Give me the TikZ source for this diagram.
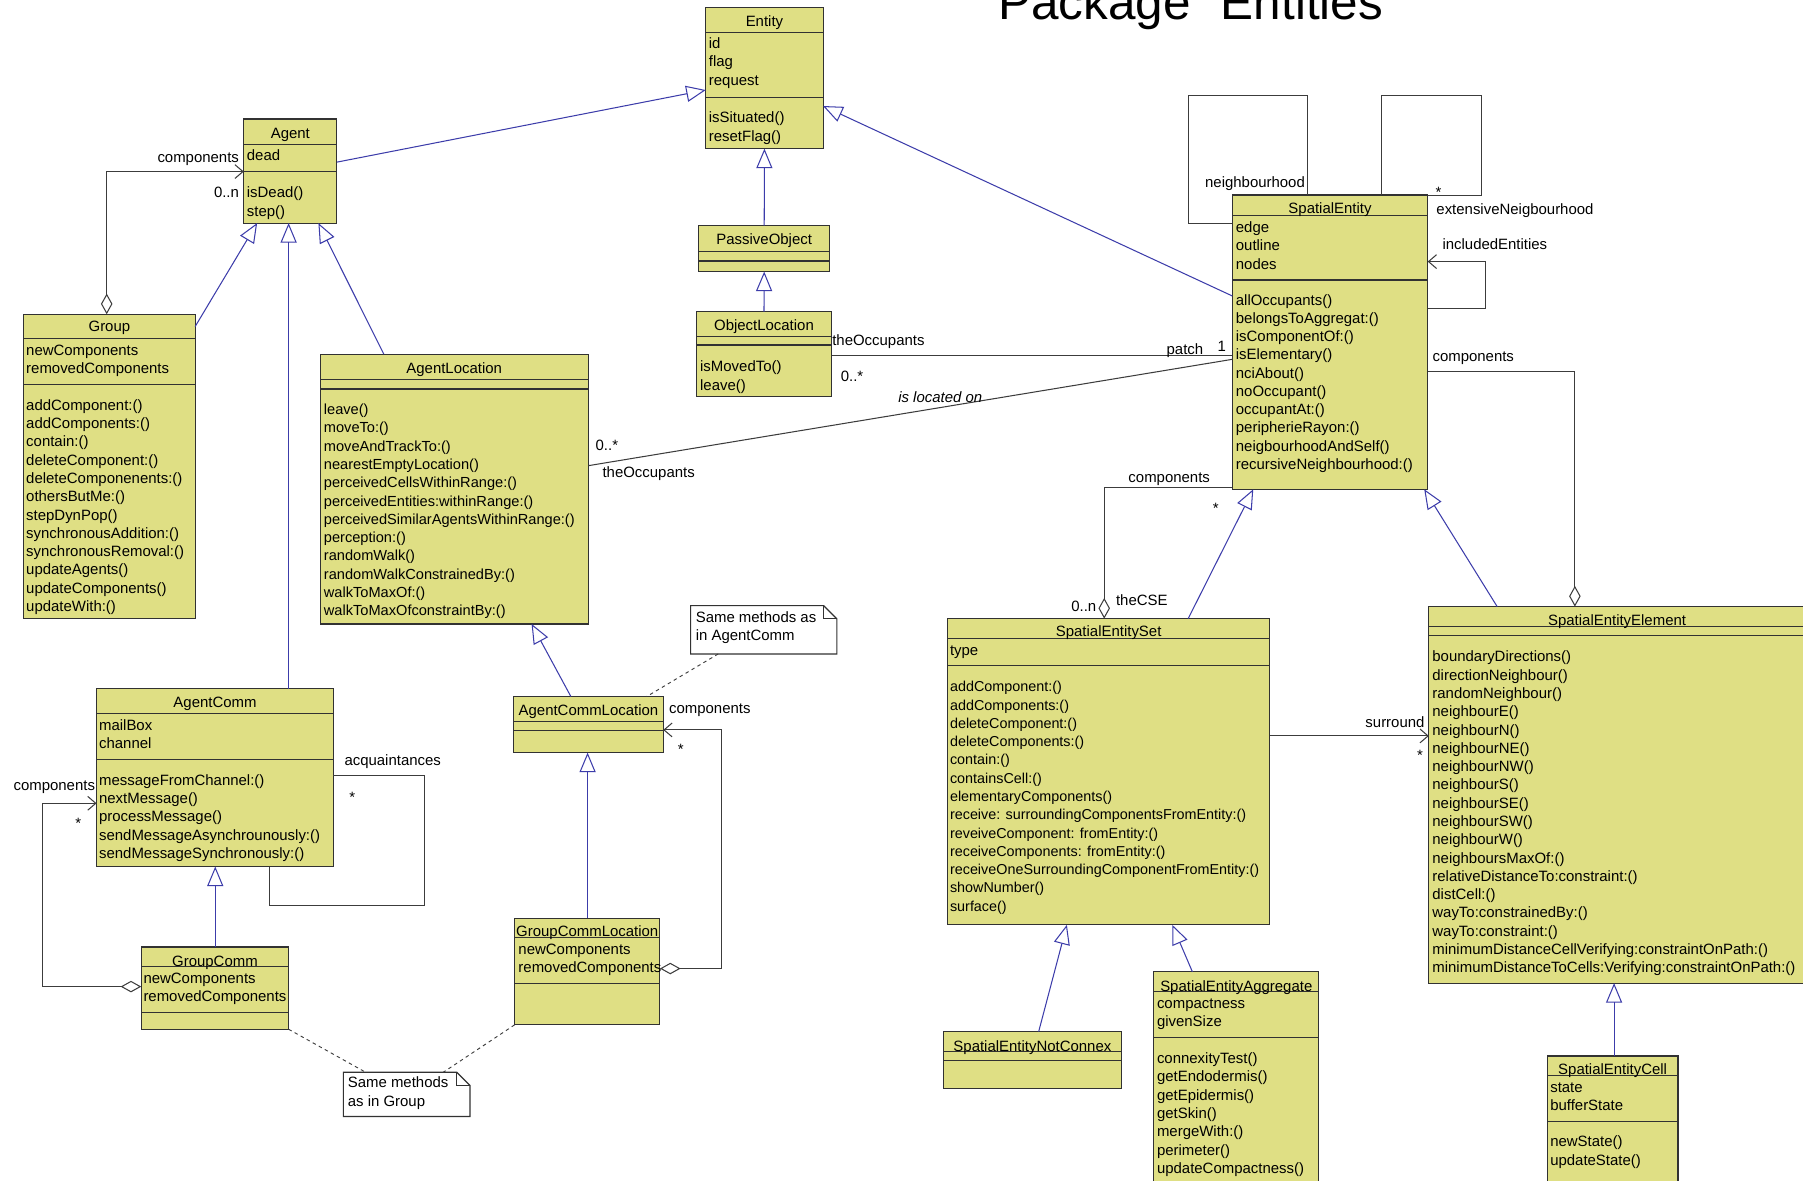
\documentclass[tikz,border=0pt]{standalone}
\usepackage{fontspec}
\setmainfont{Liberation Sans}
\usepackage{xcolor}
\usetikzlibrary{arrows.meta}

\definecolor{classfill}{RGB}{223,223,132}
\definecolor{genblue}{RGB}{60,60,170}
\definecolor{assocgray}{RGB}{60,60,60}
\definecolor{boxline}{RGB}{50,50,50}

\tikzset{
	classbox/.style={draw=boxline, fill=classfill, line width=1pt, inner sep=0pt, outer sep=0pt, anchor=north west},
	member/.style={inner sep=0pt, anchor=west, text height=9.3pt, text depth=0pt, font=\fontsize{13}{15.9}\selectfont},
	classtitle/.style={member, anchor=center},
	gen/.style={genblue, line width=0.9pt, -{Triangle[open, length=17pt, width=14pt]}},
	assoc/.style={assocgray, line width=0.9pt},
	aggr/.style={assoc, {Diamond[open, length=18pt, width=10pt]}-},
	aggrnav/.style={assoc, {Diamond[open, length=18pt, width=10pt]}-{Straight Barb[length=7pt, width=12pt]}},
	nav/.style={assoc, -{Straight Barb[length=7pt, width=12pt]}},
	notebox/.style={inner sep=0pt, outer sep=0pt, anchor=north west},
	notedraw/.style={draw=boxline, fill=white, line width=1pt},
	notelink/.style={assocgray, line width=0.8pt, dash pattern=on 3pt off 3pt},
}

% #1 name, #2 left, #3 top, #4 right, #5 bottom, #6 #7 dividers, #8 title, #9 title y
\newcommand{\umlclass}[9]{%
	\node[classbox, minimum width={(#4-#2)*1pt}, minimum height={(#5-#3)*1pt}] (#1) at (#2,#3) {};
	\draw[boxline, line width=1pt] (#1.west |- 0,#6) -- (#1.east |- 0,#6);
	\draw[boxline, line width=1pt] (#1.west |- 0,#7) -- (#1.east |- 0,#7);
	\node[classtitle] (#1-title) at (#1.north |- 0,#9) {#8};
}
% [#1 extra options], #2 prefix, #3 x, #4 first line y, #5 lines
\newcommand{\members}[5][]{%
	\foreach \m [count=\i] in {#5}
		\node[member,#1] (#2\i) at (#3,{#4+(\i-1)*\pitch}) {\m};
}
% #1 name, #2 left, #3 top, #4 width, #5 height
\newcommand{\umlnote}[5]{%
	\node[notebox, minimum width=#4pt, minimum height=#5pt] (#1) at (#2,#3) {};
	\draw[notedraw] (#1.south west) -- (#1.north west) -- ([xshift=-11.5pt]#1.north east) -- ([yshift=-11.5pt]#1.north east) -- (#1.south east) -- cycle;
	\draw[boxline, line width=1pt] ([xshift=-11.5pt]#1.north east) |- ([yshift=-11.5pt]#1.north east);
}

\begin{document}
\begin{tikzpicture}[x=1pt, y=-1pt]
	% Parameters
	\def\pitch{15.9}
	\useasboundingbox (0,0) rectangle (1568,1027);
	\fill[white] (0,0) rectangle (1568,1027);

	%title
	\node[anchor=base west, inner sep=0pt, font=\fontsize{43}{43}\selectfont] (pkgtitle) at (868,17) {Package "Entities"};

	%classes
	\umlclass{entity}{613.8}{6.5}{715.8}{129.3}{28.4}{84.6}{Entity}{18.8}
	\members{entity-a}{616.3}{37.7}{id,flag,request}
	\members{entity-m}{616.3}{102.2}{isSituated(),resetFlag()}

	\umlclass{agent}{212}{103.5}{293}{194}{125.5}{149.2}{Agent}{115.4}
	\members{agent-a}{214.5}{134.8}{dead}
	\members{agent-m}{214.5}{167.5}{isDead(),step()}

	\umlclass{group}{20.6}{273.3}{169.7}{537.7}{294.2}{334.2}{Group}{284}
	\members{group-a}{22.6}{304.4}{newComponents,removedComponents}
	\members{group-m}{22.6}{352.2}{addComponent:(),addComponents:(),contain:(),deleteComponent:(),deleteComponenents:(),othersButMe:(),stepDynPop(),synchronousAddition:(),synchronousRemoval:(),updateAgents(),updateComponents(),updateWith:()}

	\umlclass{agentlocation}{278.5}{308}{511.5}{542.6}{330}{338.3}{AgentLocation}{320.3}
	\members[font=\fontsize{12.7}{15.9}\selectfont]{agentlocation-m}{281.5}{355.9}{leave(),moveTo:(),moveAndTrackTo:(),nearestEmptyLocation(),perceivedCellsWithinRange:(),perceivedEntities:withinRange:(),perceivedSimilarAgentsWithinRange:(),perception:(),randomWalk(),randomWalkConstrainedBy:(),walkToMaxOf:(),walkToMaxOfconstraintBy:()}

	\umlclass{passiveobject}{607.5}{196.2}{721.7}{236.2}{218.8}{227}{PassiveObject}{208}

	\umlclass{objectlocation}{605.6}{271}{723.2}{345}{292.8}{300}{ObjectLocation}{283}
	\members{objectlocation-m}{608.7}{318.8}{isMovedTo(),leave()}

	\umlclass{spatialentity}{1071.7}{169.6}{1241.6}{425.5}{187.2}{243.5}{SpatialEntity}{181}
	\members{spatialentity-a}{1074.6}{197.7}{edge,outline,nodes}
	\members{spatialentity-m}{1074.6}{260.6}{allOccupants(),belongsToAggregat:(),isComponentOf:(),isElementary(),nciAbout(),noOccupant(),occupantAt:(),peripherieRayon:(),neigbourhoodAndSelf(),recursiveNeighbourhood:()}

	\umlclass{agentcomm}{84}{598.9}{290}{753.6}{620.3}{660.3}{AgentComm}{610.7}
	\members{agentcomm-a}{86}{630.4}{mailBox,channel}
	\members{agentcomm-m}{86}{678.3}{messageFromChannel:(),nextMessage(),processMessage(),sendMessageAsynchrounously:(),sendMessageSynchronously:()}

	\umlclass{groupcomm}{122.9}{823.5}{251}{895.1}{840.6}{880.3}{GroupComm}{835.6}
	\members{groupcomm-a}{124.6}{850.7}{newComponents,removedComponents}

	\umlclass{acl}{446.7}{605.8}{576.8}{654.5}{627.8}{635.4}{AgentCommLocation}{617.4}

	\umlclass{gcl}{447.5}{798.5}{573.9}{891.3}{815.4}{855.1}{GroupCommLocation}{810}
	\members{gcl-a}{450.7}{825.5}{newComponents,removedComponents}

	\umlclass{ses}{824}{538}{1104.3}{804.3}{555}{579}{SpatialEntitySet}{549.3}
	\members{ses-a}{826}{565}{type}
	\members[font=\fontsize{12.5}{15.9}\selectfont]{ses-m}{826}{597}{addComponent:(),addComponents:(),deleteComponent:(),deleteComponents:(),contain:(),containsCell:(),elementaryComponents(),receive: surroundingComponentsFromEntity:(),reveiveComponent: fromEntity:(),receiveComponents: fromEntity:(),receiveOneSurroundingComponentFromEntity:(),showNumber(),surface()}

	\umlclass{see}{1242.6}{527.5}{1570}{855}{545}{552.8}{SpatialEntityElement}{539}
	\members{see-m}{1245.5}{571}{boundaryDirections(),directionNeighbour(),randomNeighbour(),neighbourE(),neighbourN(),neighbourNE(),neighbourNW(),neighbourS(),neighbourSE(),neighbourSW(),neighbourW(),neighboursMaxOf:(),relativeDistanceTo:constraint:(),distCell:(),wayTo:constrainedBy:(),wayTo:constraint:(),minimumDistanceCellVerifying:constraintOnPath:(),minimumDistanceToCells:Verifying:constraintOnPath:()}

	\umlclass{senc}{820.7}{897.1}{975}{946.4}{914.5}{922.3}{SpatialEntityNotConnex}{909.6}

	\umlclass{sea}{1003.5}{845.2}{1146.8}{1035}{862}{902}{SpatialEntityAggregate}{857.4}
	\members{sea-a}{1006}{872.4}{compactness,givenSize}
	\members{sea-m}{1006}{920.3}{connexityTest(),getEndodermis(),getEpidermis(),getSkin(),mergeWith:(),perimeter(),updateCompactness()}

	\umlclass{sec}{1345.6}{918.3}{1459.3}{1035}{935}{975}{SpatialEntityCell}{929.8}
	\members{sec-a}{1348}{945.5}{state,bufferState}
	\members{sec-m}{1348}{992.8}{newState(),updateState()}

	%notes
	\umlnote{noteacl}{600.6}{526.7}{127.2}{42}
	\members{noteacl-t}{604.9}{536.8}{Same methods as,in AgentComm}
	\umlnote{notegroup}{298.6}{932.5}{110.1}{38.5}
	\members{notegroup-t}{302.3}{941.5}{Same methods,as in Group}

	%generalisations
	\draw[gen] (agent.east |- 0,141) -- (entity.west |- 0,78.3);
	\draw[gen] (group.east |- 0,284) -- (223.6,0 |- agent.south);
	\draw[gen] (251,0 |- agentcomm.north) -- (251,0 |- agent.south);
	\draw[gen] (333.8,0 |- agentlocation.north) -- (276.9,0 |- agent.south);
	\draw[gen] (passiveobject.north) -- (entity.south);
	\draw[gen] (objectlocation.north) -- (passiveobject.south);
	\draw[gen] (spatialentity.west |- 0,257.4) -- (entity.east |- 0,92.2);
	\draw[gen] (187.2,0 |- groupcomm.north) -- (187.2,0 |- agentcomm.south);
	\draw[gen] (496.5,0 |- acl.north) -- (462.3,0 |- agentlocation.south);
	\draw[gen] (511,0 |- gcl.north) -- (511,0 |- acl.south);
	\draw[gen] (1033.3,0 |- ses.north) -- (1089.9,0 |- spatialentity.south);
	\draw[gen] (1302,0 |- see.north) -- (1238.6,0 |- spatialentity.south);
	\draw[gen] (903.3,0 |- senc.north) -- (927.8,0 |- ses.south);
	\draw[gen] (1037,0 |- sea.north) -- (1019.5,0 |- ses.south);
	\draw[gen] (1403.7,0 |- sec.north) -- (1403.7,0 |- see.south);

	%associations
	\draw[aggrnav] (92.8,0 |- group.north) |- (agent.west |- 0,149.2);
	\draw[assoc] (objectlocation.east |- 0,309.3) -- (spatialentity.west |- 0,309.3);
	\draw[assoc] (agentlocation.east |- 0,405) -- (spatialentity.west |- 0,312.5);
	\draw[assoc] (spatialentity.west |- 0,194.2) -| (1033.7,83.2) -| (1137.3,0 |- spatialentity.north);
	\draw[assoc] (1201.7,0 |- spatialentity.north) |- (1288.3,83.2) |- (spatialentity.north east);
	\draw[nav] (spatialentity.east |- 0,268.4) -| (1292,227.5) -- (spatialentity.east |- 0,227.5);
	\draw[aggr] (1369.6,0 |- see.north) |- (spatialentity.east |- 0,323.2);
	\draw[aggr] (960.3,0 |- ses.north) |- (spatialentity.west |- 0,424);
	\draw[nav] (ses.east |- 0,640) -- (see.west |- 0,640);
	\draw[aggrnav] (groupcomm.west |- 0,858) -| (37.1,698.6) -- (agentcomm.west |- 0,698.6);
	\draw[assoc] (agentcomm.east |- 0,674.5) -| (369,787.2) -| (234,0 |- agentcomm.south);
	\draw[aggrnav] (gcl.east |- 0,842.3) -| (627.2,634.8) -- (acl.east |- 0,634.8);

	%note links
	\draw[notelink] (624.6,0 |- noteacl.south) -- (562.3,0 |- acl.north);
	\draw[notelink] (groupcomm.south east) -- (318,0 |- notegroup.north);
	\draw[notelink] (gcl.south west) -- (385.5,0 |- notegroup.north);

	%roles and multiplicities
	\node[member, anchor=east] (lgroupcomp) at (208,136.5) {components};
	\node[member, anchor=east] (lgroupmult) at (208,166.7) {0..n};
	\node[member] (loccup1) at (723.6,296) {theOccupants};
	\node[member] (lobjmult) at (731,327) {0..*};
	\node[member, anchor=east] (lpatch) at (1046.6,303.5) {patch};
	\node[member, anchor=center] (lpatchmult) at (1062.5,300.6) {1};
	\node[member, font=\fontsize{13}{15.9}\selectfont\itshape] (llocated) at (781,345.5) {is located on};
	\node[member] (lagmult) at (517.8,387) {0..*};
	\node[member] (loccup2) at (523.8,411) {theOccupants};
	\node[member, anchor=east] (lneigh) at (1135,158.6) {neighbourhood};
	\node[member, anchor=center] (lextmult) at (1251,166.8) {*};
	\node[member] (lext) at (1249,182) {extensiveNeigbourhood};
	\node[member] (lincl) at (1254.3,212.2) {includedEntities};
	\node[member] (lsecomp) at (1245.6,310) {components};
	\node[member, anchor=center] (lsescomp) at (1016.8,415) {components};
	\node[member, anchor=center] (lsesmult) at (1057.4,442) {*};
	\node[member, anchor=east] (lsetmult) at (953.6,527.5) {0..n};
	\node[member] (lcse) at (970.4,521.7) {theCSE};
	\node[member, anchor=east] (lsurr) at (1239,628) {surround};
	\node[member, anchor=center] (lsurrmult) at (1235,657) {*};
	\node[member] (lacomp) at (11.6,682.6) {components};
	\node[member, anchor=center] (lacmult) at (68,715.5) {*};
	\node[member] (lacq) at (299.4,661) {acquaintances};
	\node[member, anchor=center] (lacqmult) at (306.4,693) {*};
	\node[member] (laclcomp) at (581.7,616) {components};
	\node[member, anchor=center] (laclmult) at (592,651.4) {*};
\end{tikzpicture}
\end{document}
